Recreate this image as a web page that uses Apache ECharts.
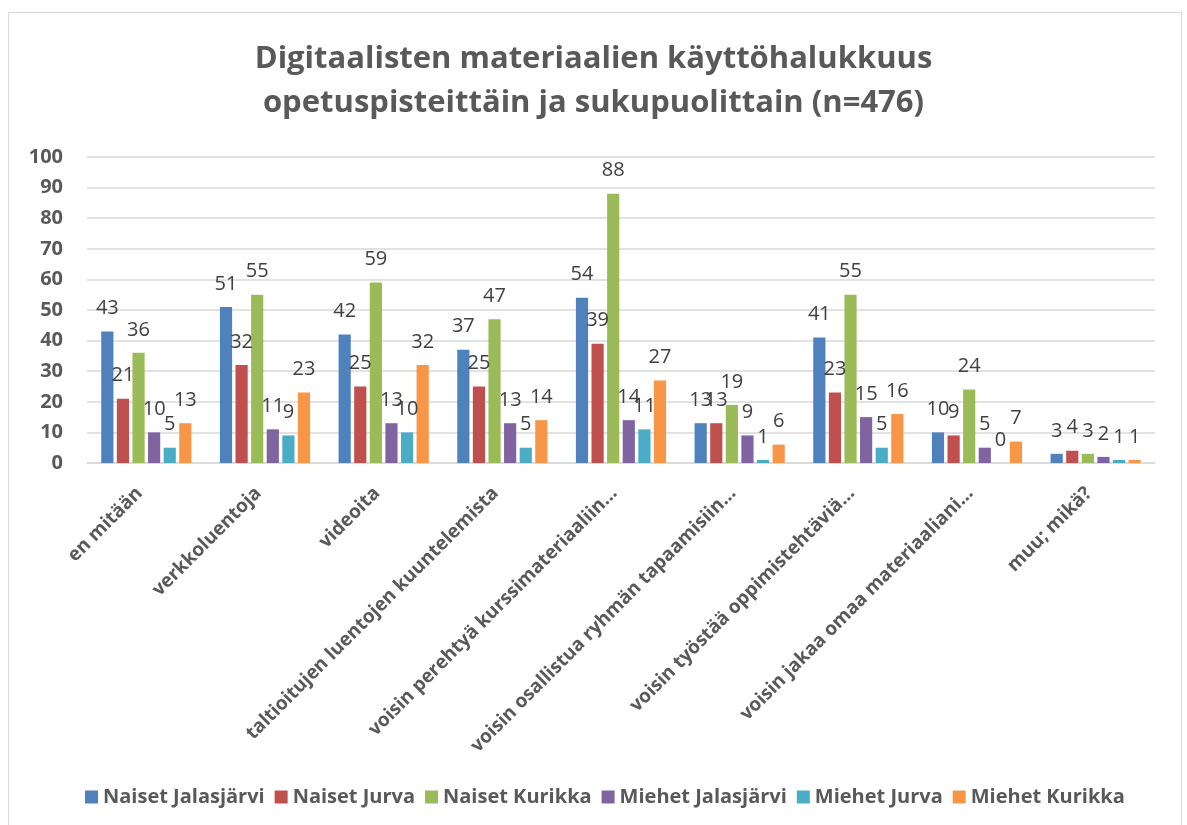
<!DOCTYPE html>
<html>
<head>
<meta charset="utf-8">
<script src="https://cdn.jsdelivr.net/npm/echarts@6/dist/echarts.min.js"></script>
<style>
  html, body { margin: 0; padding: 0; background: #fff; }
  #frame { position: absolute; left: 8px; top: 12px; width: 1174px; height: 830px; border: 1px solid #d9d9d9; box-sizing: border-box; }
  #main { position: absolute; left: 0; top: 0; width: 1187px; height: 825px; }
</style>
</head>
<body>
<div id="frame"></div>
<div id="main"></div>
<script>
var FONT = "'Open Sans', sans-serif";

var categories = ['en mitään', 'verkkoluentoja', 'videoita', 'taltioitujen luentojen kuuntelemista',
    'voisin perehtyä kurssimateriaaliin…', 'voisin osallistua ryhmän tapaamisiin…',
    'voisin työstää oppimistehtäviä…', 'voisin jakaa omaa materiaaliani…', 'muu; mikä?'];

var naisetJalasjarvi = [43, 51, 42, 37, 54, 13, 41, 10, 3];
var naisetJurva      = [21, 32, 25, 25, 39, 13, 23, 9, 4];
var naisetKurikka    = [36, 55, 59, 47, 88, 19, 55, 24, 3];
var miehetJalasjarvi = [10, 11, 13, 13, 14, 9, 15, 5, 2];
var miehetJurva      = [5, 9, 10, 5, 11, 1, 5, 0, 1];
var miehetKurikka    = [13, 23, 32, 14, 27, 6, 16, 7, 1];

var seriesNames = ['Naiset Jalasjärvi', 'Naiset Jurva', 'Naiset Kurikka', 'Miehet Jalasjärvi', 'Miehet Jurva', 'Miehet Kurikka'];
var seriesData = [naisetJalasjarvi, naisetJurva, naisetKurikka, miehetJalasjarvi, miehetJurva, miehetKurikka];
var colors = ['#4f81bd', '#c0504d', '#9bbb59', '#8064a2', '#4bacc6', '#f79646'];

var myChart = echarts.init(document.getElementById('main'));

var series = [];
for (var i = 0; i < seriesNames.length; i++) {
    series.push({
        name: seriesNames[i],
        type: 'bar',
        data: seriesData[i],
        barGap: '28%',
        barCategoryGap: '24%',
        itemStyle: { color: colors[i] },
        label: {
            show: true,
            position: 'top',
            distance: 13,
            color: '#404040',
            fontSize: 20,
            fontFamily: FONT
        }
    });
}

var option = {
    animation: false,
    color: colors,
    title: {
        text: 'Digitaalisten materiaalien käyttöhalukkuus\nopetuspisteittäin ja sukupuolittain (n=476)',
        left: 'center',
        top: 32,
        textStyle: {
            color: '#595959',
            fontSize: 31,
            fontWeight: 'bold',
            lineHeight: 44,
            align: 'center',
            fontFamily: FONT
        }
    },
    legend: {
        data: seriesNames,
        top: 782,
        left: 80,
        icon: 'rect',
        itemWidth: 13,
        itemHeight: 13,
        itemGap: 10,
        textStyle: { color: '#595959', fontSize: 20, fontWeight: 'bold', fontFamily: FONT }
    },
    grid: {
        left: 87,
        right: 32,
        top: 157,
        bottom: 362,
        containLabel: false
    },
    xAxis: [{
        type: 'category',
        data: categories,
        axisLine: { lineStyle: { color: '#d9d9d9', width: 1.5 } },
        axisTick: { show: false },
        axisLabel: {
            rotate: 45,
            interval: 0,
            margin: 34,
            verticalAlign: 'bottom',
            color: '#595959',
            fontSize: 19,
            fontWeight: 'bold',
            fontFamily: FONT
        }
    }],
    yAxis: [{
        type: 'value',
        min: 0,
        max: 100,
        interval: 10,
        axisLine: { show: false },
        axisTick: { show: false },
        splitLine: { lineStyle: { color: '#d9d9d9', width: 1.5 } },
        axisLabel: {
            margin: 24,
            color: '#595959',
            fontSize: 20,
            fontWeight: 'bold',
            fontFamily: FONT
        }
    }],
    series: series
};

myChart.setOption(option);
</script>
</body>
</html>
